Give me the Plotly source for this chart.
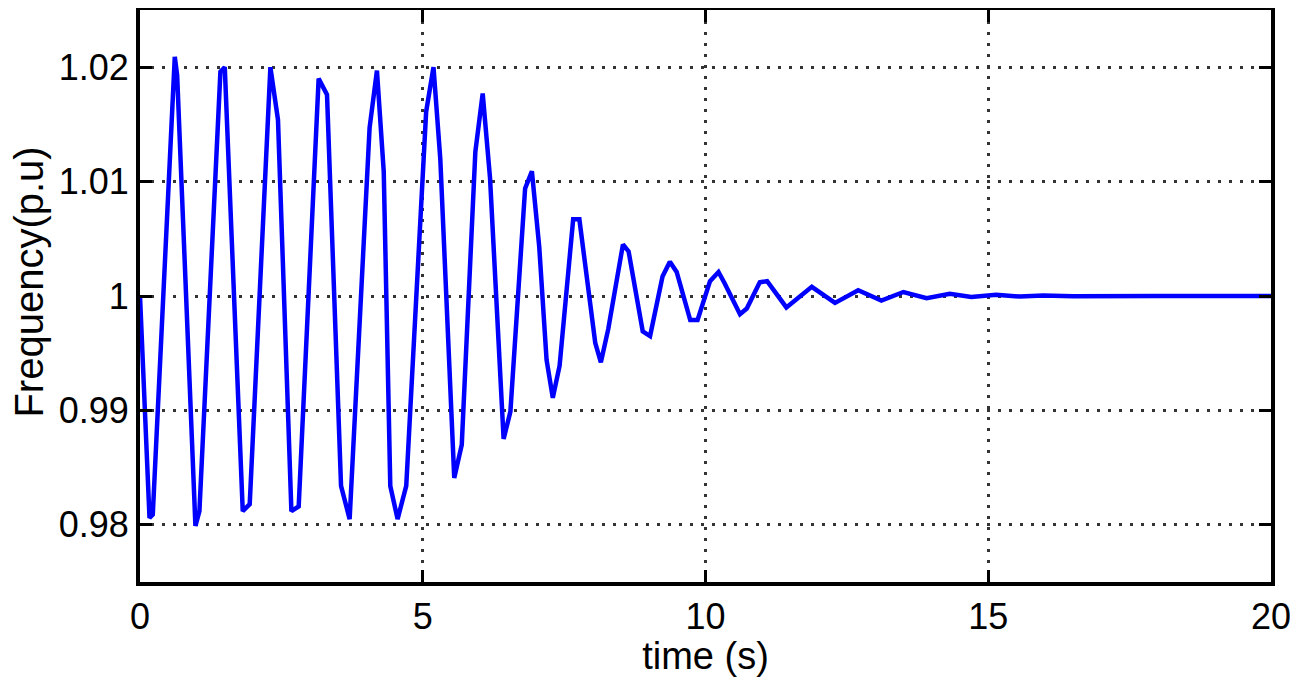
import plotly.graph_objects as go

# time (s) and frequency (p.u) vertices
time_s = [0, 0.168, 0.226, 0.615, 0.657, 0.98, 1.051, 1.422, 1.499, 1.817, 1.94,
          2.306, 2.44, 2.677, 2.806, 3.159, 3.307, 3.555, 3.707, 4.06, 4.19, 4.31,
          4.426, 4.555, 4.708, 5.06, 5.19, 5.31, 5.557, 5.69, 5.93, 6.06, 6.19,
          6.43, 6.55, 6.81, 6.93, 7.06, 7.19, 7.30, 7.42, 7.66, 7.77, 8.05, 8.15,
          8.28, 8.54, 8.64, 8.89, 9.02, 9.24, 9.37, 9.49, 9.73, 9.86, 10.08, 10.23,
          10.34, 10.61, 10.73, 10.96, 11.09, 11.43, 11.88, 12.29, 12.70, 13.11,
          13.50, 13.91, 14.32, 14.70, 15.14, 15.56, 15.97, 16.5, 17.2, 18.0, 20.0]
freq_pu = [1.0, 0.9806, 0.9809, 1.0209, 1.0193, 0.9799, 0.9812, 1.0196, 1.0200,
           0.9812, 0.9818, 1.0200, 1.0154, 0.9812, 0.9816, 1.0190, 1.0176, 0.9834,
           0.9805, 1.0147, 1.0197, 1.0109, 0.9834, 0.9805, 0.9834, 1.0161, 1.0200,
           1.0120, 0.9841, 0.9870, 1.0126, 1.0177, 1.0103, 0.9875, 0.9899, 1.0094,
           1.0109, 1.0043, 0.9944, 0.9911, 0.9939, 1.0067, 1.0067, 0.9959, 0.9942,
           0.9971, 1.0045, 1.0039, 0.9969, 0.9965, 1.0017, 1.0030, 1.0021, 0.9979,
           0.9979, 1.0013, 1.0021, 1.0011, 0.9984, 0.9989, 1.0012, 1.0013, 0.9990,
           1.0008, 0.9994, 1.0005, 0.9996, 1.00035, 0.9998, 1.0002, 0.99991, 1.0001,
           0.99995, 1.00005, 0.99998, 1.00002, 1.0, 1.0]

x_ticks = [0, 5, 10, 15, 20]
x_tick_labels = ["0", "5", "10", "15", "20"]
y_ticks = [0.98, 0.99, 1.0, 1.01, 1.02]
y_tick_labels = ["0.98", "0.99", "1", "1.01", "1.02"]

FONT = "Liberation Sans, Arial, Helvetica, sans-serif"

# The page body has an 8px default margin, so the figure is sized to compensate.
fig = go.Figure()
fig.add_trace(go.Scatter(x=time_s, y=freq_pu, mode="lines",
                         line=dict(color="#0000ff", width=4.5), showlegend=False))

axis_common = dict(
    showline=True, linecolor="black", linewidth=4, mirror="ticks",
    ticks="inside", ticklen=12, tickwidth=3, tickcolor="black",
    showgrid=True, gridcolor="#333333", gridwidth=2.5, griddash="3px,8px",
    zeroline=False, automargin=False,
    tickfont=dict(family=FONT, size=36, color="black"),
)

fig.update_layout(
    width=1290, height=669,
    margin=dict(l=131.5, r=26.5, t=2, b=95),
    paper_bgcolor="white", plot_bgcolor="white",
    xaxis=dict(range=[0, 20], tickvals=x_ticks, ticktext=x_tick_labels,
               title=dict(text="time (s)", font=dict(family=FONT, size=38, color="black"),
                          standoff=0),
               **axis_common),
    yaxis=dict(range=[0.975, 1.025], tickvals=y_ticks, ticktext=y_tick_labels,
               **axis_common),
    annotations=[dict(text="Frequency(p.u)", textangle=-90, showarrow=False,
                      xref="paper", yref="paper", x=-0.0985, y=0.5245,
                      xanchor="center", yanchor="middle",
                      font=dict(family=FONT, size=40, color="black"))],
)

fig.write_html("out.html")
